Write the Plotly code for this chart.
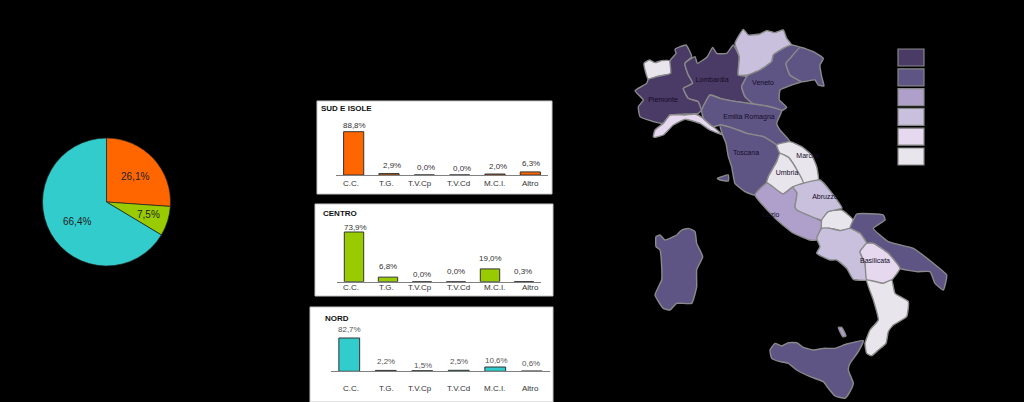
import plotly.graph_objects as go

# ---- data ----
pie_labels = ["Sud e Isole", "Centro", "Nord"]
pie_values = [26.1, 7.5, 66.4]
pie_text = ["26,1%", "7,5%", "66,4%"]
pie_colors = ["#ff6600", "#99cc00", "#33cccc"]

categories = ["C.C.", "T.G.", "T.V.Cp", "T.V.Cd", "M.C.I.", "Altro"]
sud_values = [88.8, 2.9, 0.0, 0.0, 2.0, 6.3]
centro_values = [73.9, 6.8, 0.0, 0.0, 19.0, 0.3]
nord_values = [82.7, 2.2, 1.5, 2.5, 10.6, 0.6]
sud_text = ["88,8%", "2,9%", "0,0%", "0,0%", "2,0%", "6,3%"]
centro_text = ["73,9%", "6,8%", "0,0%", "0,0%", "19,0%", "0,3%"]
nord_text = ["82,7%", "2,2%", "1,5%", "2,5%", "10,6%", "0,6%"]

# label nudges (px) relative to the bar tops
sud_dx = [1, 3, 2, 2, 3, 1]
sud_dy = [0, 2, 1, 0, 1, 2]
centro_dx = [1, 0, 0, 0, 0, -1]
centro_dy = [-2, 4, 1, 4, 4, 4]
nord_dx = [0, 0, 1, 0, 1, -1]
nord_dy = [2, 2, -1, 2, 0, 1]
# page x of the category captions (shared by the three panels)
caption_px = [350.7, 386.7, 420, 458.5, 494, 530]
# page position of the pie captions
pie_caption_px = [(134.5, 176), (148, 214), (77, 221)]

C1, C2, C3, C4, C5, C6 = "#4a3a66", "#5f5585", "#ae9fcb", "#c8c0dc", "#e6d8ee", "#e8e6ec"
legend_colors = [C1, C2, C3, C4, C5, C6]


def z1(pts):
    return [(620 + a / 3, 20 + b / 3) for a, b in pts]


def z2(pts):
    return [(640 + a / 3, 200 + b / 3) for a, b in pts]


def z8(pts):
    return [(760 + a / 3, 320 + b / 3) for a, b in pts]


valle_aosta = z1([(72,130),(88,120),(105,128),(125,122),(150,122),(152,160),(110,170),(85,178),(75,150)])
piemonte = z1([(45,212),(80,190),(85,178),(110,170),(152,160),(150,122),(168,100),(165,88),(198,75),(215,110),(195,130),(205,165),(218,190),(190,205),(205,235),(235,245),(245,270),(235,280),(195,282),(150,285),(130,310),(100,305),(60,290),(55,260),(70,240)])
lombardia = z1([(195,130),(225,110),(232,130),(262,110),(278,82),(290,100),(320,100),(340,75),(358,110),(355,165),(380,170),(365,200),(375,230),(400,252),(350,245),(300,235),(270,225),(245,270),(235,245),(205,235),(190,205),(218,190),(205,165)])
trentino = z1([(345,70),(370,28),(385,45),(420,42),(440,32),(465,38),(490,30),(500,55),(515,75),(490,85),(460,105),(455,125),(420,150),(385,165),(355,165),(358,110)])
veneto = z1([(385,165),(420,150),(455,125),(460,105),(490,85),(515,75),(540,82),(515,110),(498,130),(510,165),(545,185),(515,195),(480,210),(478,240),(500,262),(485,272),(440,258),(400,252),(375,230),(365,200),(380,170)])
friuli = z1([(540,82),(580,95),(610,115),(600,135),(605,170),(612,198),(595,195),(585,180),(545,185),(510,165),(498,130),(515,110)])
liguria = z1([(100,350),(105,330),(130,310),(150,285),(195,285),(225,282),(250,295),(280,320),(308,345),(270,330),(240,310),(195,298),(160,315),(130,345),(105,352)])
emilia = z1([(245,270),(270,225),(300,235),(350,245),(400,252),(440,258),(485,272),(470,310),(480,330),(510,365),(470,375),(430,350),(380,340),(340,325),(300,315),(280,320),(250,295)])
toscana = z1([(300,315),(340,325),(380,340),(430,350),(470,375),(480,400),(470,425),(445,470),(440,490),(405,525),(375,515),(345,490),(335,440),(325,410),(318,370),(308,345)])
elba = z1([(292,475),(325,465),(325,483),(300,480)])
marche = z1([(470,375),(510,365),(545,380),(575,405),(590,440),(595,480),(550,490),(525,440),(505,412),(480,400)])
umbria = z1([(480,400),(505,412),(525,440),(550,490),(520,500),(490,522),(440,490),(445,470),(470,425)])
lazio = [(755,195),(767,183),(783,194),(793,187),(797,193),(795,207),(797,210),(822,222),(817,240),(810,240),(793,233),(777,220)]
abruzzo = [(793,187),(820,180),(837,200),(842,208),(828,212),(822,220),(797,210),(795,207),(797,193)]
molise = z2([(545,60),(565,35),(605,30),(640,60),(630,85),(600,92),(570,85),(545,85)])
puglia = z2([(640,60),(650,42),(730,45),(735,60),(700,85),(745,125),(820,145),(880,190),(920,225),(910,270),(885,250),(870,215),(830,215),(780,205),(745,160),(700,130),(680,130),(660,100),(630,85)])
campania = z2([(545,85),(570,85),(600,92),(630,85),(660,100),(680,130),(660,155),(675,190),(680,240),(640,238),(620,205),(590,180),(570,180),(530,160),(540,140),(530,115)])
basilicata = z2([(680,130),(700,130),(745,160),(780,205),(755,240),(730,250),(680,240),(675,190),(660,155)])
calabria = z2([(680,240),(730,250),(755,240),(765,280),(805,305),(800,350),(760,375),(745,395),(738,430),(715,450),(695,467),(680,460),(675,430),(690,390),(715,360),(700,300)])
sardegna = z2([(48,110),(60,105),(75,120),(110,105),(125,90),(145,85),(165,95),(170,130),(188,170),(170,210),(170,260),(155,310),(110,310),(90,330),(70,325),(45,285),(65,240),(65,200),(60,150),(48,140)])
sicilia = z8([(30,90),(45,70),(65,78),(85,68),(110,68),(130,82),(160,90),(190,85),(225,85),(260,72),(310,62),(295,95),(270,130),(265,150),(280,190),(270,215),(255,235),(225,228),(205,205),(190,185),(150,170),(110,150),(85,130),(60,125),(35,115)])
eolie = z8([(235,22),(245,22),(258,48),(248,50)])

regions = [
    (valle_aosta, C6), (piemonte, C1), (lombardia, C1), (trentino, C4), (veneto, C2),
    (friuli, C2), (liguria, C5), (emilia, C2), (toscana, C2), (elba, C2), (marche, C6),
    (umbria, C6), (lazio, C3), (abruzzo, C4), (molise, C6), (puglia, C2), (campania, C4),
    (basilicata, C5), (calabria, C6), (sardegna, C2), (sicilia, C2), (eolie, C3),
]
map_labels = [
    ("Piemonte", 663, 100), ("Lombardia", 712, 80), ("Veneto", 763, 83),
    ("Emilia Romagna", 749, 117), ("Toscana", 746, 153), ("Marche", 808, 156),
    ("Umbria", 787, 173), ("Abruzzo", 825, 197), ("Lazio", 771, 215), ("Basilicata", 875, 261),
]

# ---- layout helpers ----
W, H = 1024, 402


def fx(px):
    return px / W


def fy(px):
    return 1 - px / H


fig = go.Figure()

# map overlay in page-unit axes
for poly, col in regions:
    fig.add_trace(go.Scatter(
        x=[p[0] for p in poly] + [poly[0][0]], y=[p[1] for p in poly] + [poly[0][1]],
        mode="lines", fill="toself", fillcolor=col,
        line=dict(color="#8a8a8a", width=1.4, shape="spline", smoothing=0.4),
        hoverinfo="skip", showlegend=False, xaxis="x", yaxis="y"))
fig.add_trace(go.Scatter(
    x=[m[1] for m in map_labels], y=[m[2] for m in map_labels], text=[m[0] for m in map_labels],
    mode="text", textposition="middle center",
    textfont=dict(family="Liberation Sans", size=7, color="#140c28"),
    hoverinfo="skip", showlegend=False, xaxis="x", yaxis="y"))

# pie
cx, cy, r = 106.5, 202, 64
fig.add_trace(go.Pie(
    labels=pie_labels, values=pie_values, textinfo="none", sort=False,
    direction="clockwise", rotation=0, marker=dict(colors=pie_colors, line=dict(color="#222222", width=0.7)),
    showlegend=False,
    domain=dict(x=[fx(cx - r), fx(cx + r)], y=[fy(cy + r), fy(cy - r)])))

panels = [
    dict(vals=sud_values, txt=sud_text, dx=sud_dx, dy=sud_dy, color="#ff6600", title="SUD E ISOLE",
         box=(317, 101, 552, 194), ax=(336, 548), base=175, top=120, pxu=43.3 / 88.8, cap=183, tx=320, ty=109, lc="#333333"),
    dict(vals=centro_values, txt=centro_text, dx=centro_dx, dy=centro_dy, color="#99cc00", title="CENTRO",
         box=(315, 204, 553, 296), ax=(337, 541), base=281.7, top=225, pxu=49.7 / 73.9, cap=287, tx=322, ty=213, lc="#333333"),
    dict(vals=nord_values, txt=nord_text, dx=nord_dx, dy=nord_dy, color="#33cccc", title="NORD",
         box=(310, 307, 553, 402), ax=(331, 550), base=371.3, top=325, pxu=33.3 / 82.7, cap=388, tx=324, ty=318, lc="#555555"),
]

shapes, annotations = [], []
layout_axes = {}
for i, p in enumerate(panels):
    n = i + 2
    xa, ya = f"x{n}", f"y{n}"
    fig.add_trace(go.Bar(
        x=categories, y=p["vals"], marker=dict(color=p["color"], line=dict(color="#333333", width=1)),
        showlegend=False, xaxis=xa, yaxis=ya, hoverinfo="x+y"))
    layout_axes[f"xaxis{n}"] = dict(
        domain=[fx(p["ax"][0]), fx(p["ax"][1])], anchor=ya, type="category",
        showgrid=False, zeroline=False, showline=True, linecolor="#808080", linewidth=1,
        ticks="", showticklabels=False, fixedrange=True)
    layout_axes[f"yaxis{n}"] = dict(
        domain=[fy(p["base"]), fy(p["top"])], anchor=xa,
        range=[0, (p["base"] - p["top"]) / p["pxu"]],
        visible=False, fixedrange=True)
    x0, y0, x1, y1 = p["box"]
    shapes.append(dict(type="rect", xref="paper", yref="paper", x0=fx(x0), x1=fx(x1), y0=fy(y1), y1=fy(y0),
                       fillcolor="white", line=dict(color="#c8c8c8", width=1), layer="below"))
    annotations.append(dict(xref="paper", yref="paper", x=fx(p["tx"]), y=fy(p["ty"]), text=f"<b>{p['title']}</b>",
                            showarrow=False, xanchor="left", yanchor="middle", borderpad=0,
                            font=dict(family="Liberation Sans", size=8, color="#111111")))
    for c, v, t, dx, dy, cpx in zip(categories, p["vals"], p["txt"], p["dx"], p["dy"], caption_px):
        annotations.append(dict(xref=xa, yref=ya, x=c, y=v, text=t, showarrow=False, yanchor="bottom",
                                xshift=dx, yshift=dy, font=dict(family="Liberation Sans", size=8, color=p["lc"])))
        annotations.append(dict(xref="paper", yref="paper", x=fx(cpx), y=fy(p["cap"]), text=c, showarrow=False,
                                xanchor="center", yanchor="middle",
                                font=dict(family="Liberation Sans", size=8, color="#333333")))

for t, (px, py) in zip(pie_text, pie_caption_px):
    annotations.append(dict(xref="paper", yref="paper", x=fx(px), y=fy(py), text=t, showarrow=False,
                            xanchor="center", yanchor="middle",
                            font=dict(family="Liberation Sans", size=10, color="#222222")))

# legend swatches
for j, col in enumerate(legend_colors):
    top = 49 + j * 19.8
    shapes.append(dict(type="rect", xref="paper", yref="paper", x0=fx(898), x1=fx(924), y0=fy(top + 17), y1=fy(top),
                       fillcolor=col, line=dict(color="#888888", width=1.2)))

fig.update_layout(
    width=W, height=H, margin=dict(l=0, r=0, t=0, b=0), paper_bgcolor="black", plot_bgcolor="rgba(0,0,0,0)",
    bargap=0.43, showlegend=False, shapes=shapes, annotations=annotations,
    xaxis=dict(domain=[0, 1], range=[0, W], visible=False, fixedrange=True),
    yaxis=dict(domain=[0, 1], range=[H, 0], visible=False, fixedrange=True),
    **layout_axes)

fig.write_html("out.html", config=dict(displayModeBar=False),
               post_script="document.body.style.margin='0';document.body.style.overflow='hidden';")
